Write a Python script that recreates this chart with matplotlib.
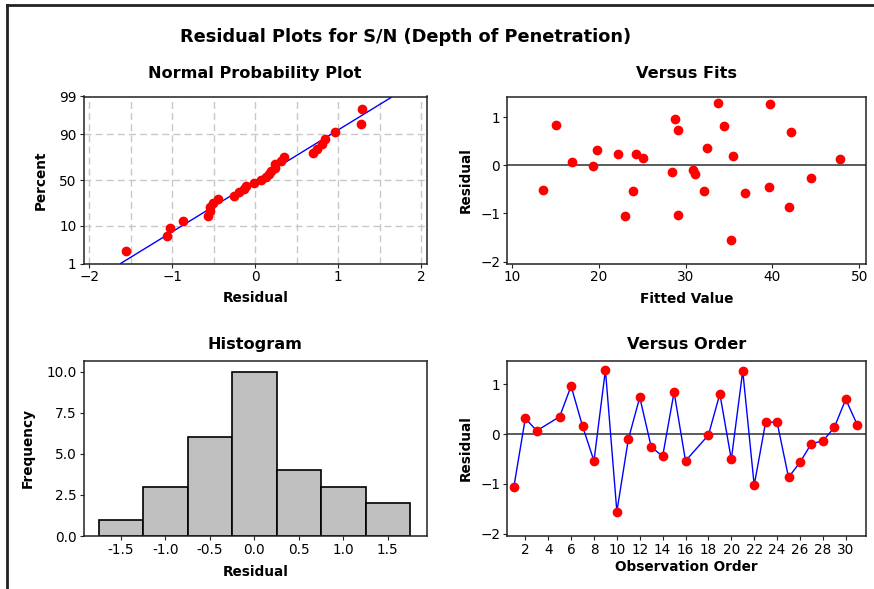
import numpy as np
import matplotlib
matplotlib.use('Agg')
import matplotlib.pyplot as plt
from matplotlib.lines import Line2D
from statistics import NormalDist

# residuals in observation order (obs 4 and 17 are missing)
order = [1, 2, 3, 5, 6, 7, 8, 9, 10, 11, 12, 13, 14, 15, 16,
         18, 19, 20, 21, 22, 23, 24, 25, 26, 27, 28, 29, 30, 31]
resid = [-1.06, 0.315, 0.067, 0.35, 0.966, 0.16, -0.54, 1.29, -1.56, -0.107,
         0.74, -0.255, -0.45, 0.845, -0.54, -0.02, 0.81, -0.51, 1.27, -1.03,
         0.24, 0.24, -0.87, -0.57, -0.19, -0.14, 0.134, 0.70, 0.19]
fitted = [22.96, 19.8, 16.86, 32.47, 28.79, 25.1, 23.88, 33.7, 35.27, 30.86,
          29.13, 44.4, 39.64, 15.1, 32.12, 19.36, 34.42, 13.53, 39.68, 29.13,
          22.15, 24.26, 41.94, 36.88, 31.09, 28.44, 47.77, 42.1, 35.46]

pct_ticks = [1, 10, 50, 90, 99]
hist_bins = [-1.75, -1.25, -0.75, -0.25, 0.25, 0.75, 1.25, 1.75]

plt.rcParams['font.family'] = ['DejaVu Sans']
plt.rcParams['xtick.labelsize'] = 9.8
plt.rcParams['ytick.labelsize'] = 9.8
plt.rcParams['xtick.major.size'] = 3
plt.rcParams['ytick.major.size'] = 3

W, H = 874, 589
fig = plt.figure(figsize=(W / 100, H / 100), dpi=100)

def box(l, t, r, b):
    return [l / W, 1 - b / H, (r - l) / W, (b - t) / H]

nd = NormalDist()
r = np.array(resid)
red = '#ff0000'

# frame of the window
fig.add_artist(Line2D([7 / W, 1], [1 - 5 / H, 1 - 5 / H], color='#222222', lw=2))
fig.add_artist(Line2D([7 / W, 7 / W], [0, 1 - 5 / H], color='#222222', lw=2))

fig.text(406 / W, 1 - 42 / H, 'Residual Plots for S/N (Depth of Penetration)',
         ha='center', va='baseline', fontsize=12.8, fontweight='bold')

# normal probability plot
ax1 = fig.add_axes(box(83.5, 96.5, 427, 263.5))
rs = np.sort(r)
n = len(rs)
pp = [(i + 1 - 0.3) / (n + 0.4) for i in range(n)]
zs = [nd.inv_cdf(p) for p in pp]
z_lo, z_hi = nd.inv_cdf(0.01), nd.inv_cdf(0.99)
mu, sd = r.mean(), r.std(ddof=1)
zl = np.linspace(z_lo, z_hi, 50)
ax1.plot(mu + sd * zl, zl, color='#0000ff', lw=1, zorder=2)
ax1.plot(rs, zs, 'o', color=red, ms=6, zorder=3)
ax1.set_ylim(z_lo, z_hi)
ax1.set_xlim(-2.07, 2.07)
ax1.set_yticks([nd.inv_cdf(p / 100) for p in pct_ticks])
ax1.set_yticklabels([str(p) for p in pct_ticks])
ax1.set_xticks([-2, -1, 0, 1, 2])
ax1.set_xticks(np.arange(-2, 2.01, 0.5), minor=True)
ax1.tick_params(which='minor', length=0)
ax1.grid(True, which='both', axis='x', color='#c8c8c8', ls=(0, (5, 3)), lw=1)
ax1.grid(True, which='major', axis='y', color='#c8c8c8', ls=(0, (5, 3)), lw=1)
ax1.set_axisbelow(True)
ax1.set_title('Normal Probability Plot', fontsize=11.6, fontweight='bold', pad=13)
ax1.set_xlabel('Residual', fontsize=9.8, fontweight='bold', va='top')
ax1.set_ylabel('Percent', fontsize=9.8, fontweight='bold')
ax1.xaxis.set_label_coords(0.5, -0.165)
ax1.yaxis.set_label_coords(-0.103, 0.5)

# versus fits
ax2 = fig.add_axes(box(507, 96.5, 866, 263.5))
ax2.axhline(0, color='#404040', lw=1.2, zorder=1)
ax2.plot(fitted, resid, 'o', color=red, ms=6, zorder=3)
ax2.set_xlim(9.42, 50.77)
ax2.set_ylim(-2.04, 1.43)
ax2.set_xticks([10, 20, 30, 40, 50])
ax2.set_yticks([-2, -1, 0, 1])
ax2.set_title('Versus Fits', fontsize=11.6, fontweight='bold', pad=13)
ax2.set_xlabel('Fitted Value', fontsize=9.8, fontweight='bold', va='top')
ax2.set_ylabel('Residual', fontsize=9.8, fontweight='bold')
ax2.xaxis.set_label_coords(0.5, -0.17)
ax2.yaxis.set_label_coords(-0.095, 0.5)

# histogram
ax3 = fig.add_axes(box(83.5, 360.5, 427, 536))
ax3.hist(resid, bins=hist_bins, color='#c0c0c0', edgecolor='black', lw=1.2)
ax3.set_xlim(-1.92, 1.94)
ax3.set_ylim(0, 10.67)
ax3.set_xticks([-1.5, -1.0, -0.5, 0.0, 0.5, 1.0, 1.5])
ax3.set_xticklabels(['-1.5', '-1.0', '-0.5', '0.0', '0.5', '1.0', '1.5'])
ax3.set_yticks([0, 2.5, 5, 7.5, 10])
ax3.set_yticklabels(['0.0', '2.5', '5.0', '7.5', '10.0'])
ax3.set_title('Histogram', fontsize=11.6, fontweight='bold', pad=8)
ax3.set_xlabel('Residual', fontsize=9.8, fontweight='bold', va='top')
ax3.set_ylabel('Frequency', fontsize=9.8, fontweight='bold')
ax3.xaxis.set_label_coords(0.5, -0.165)
ax3.yaxis.set_label_coords(-0.141, 0.5)

# versus order
ax4 = fig.add_axes(box(507, 360.5, 866, 536))
ax4.axhline(0, color='#404040', lw=1.2, zorder=1)
ax4.plot(order, resid, '-', color='#0000ff', lw=1, zorder=2)
ax4.plot(order, resid, 'o', color=red, ms=6, zorder=3)
ax4.set_xlim(0.4, 31.77)
ax4.set_ylim(-2.05, 1.48)
ax4.set_xticks(range(2, 31, 2))
ax4.set_yticks([-2, -1, 0, 1])
ax4.set_title('Versus Order', fontsize=11.6, fontweight='bold', pad=8)
ax4.set_xlabel('Observation Order', fontsize=9.8, fontweight='bold', va='top')
ax4.set_ylabel('Residual', fontsize=9.8, fontweight='bold')
ax4.xaxis.set_label_coords(0.5, -0.137)
ax4.yaxis.set_label_coords(-0.095, 0.5)

for ax in (ax1, ax2, ax3, ax4):
    for s in ax.spines.values():
        s.set_linewidth(1.1)
        s.set_color('#222222')
    ax.tick_params(colors='#222222', labelcolor='black', pad=2)

fig.savefig('out.png', dpi=100)
